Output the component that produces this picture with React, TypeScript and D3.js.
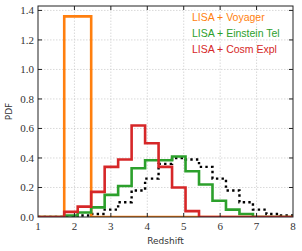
import { useEffect, useRef } from 'react'
import * as d3 from 'd3'

// bin edges shared by the three redshift histograms
const binEdges = [1.72, 2.09, 2.46, 2.83, 3.2, 3.57, 3.94, 4.31, 4.68, 5.05, 5.42, 5.79, 6.16, 6.53, 6.9, 7.27, 7.64, 8.01]
const cosmExpl = [0.035, 0.07, 0.17, 0.34, 0.39, 0.62, 0.5, 0.34, 0.2, 0.04, 0, 0, 0, 0, 0, 0, 0]
const einsteinTel = [0.01, 0.03, 0.065, 0.15, 0.21, 0.33, 0.385, 0.385, 0.41, 0.31, 0.22, 0.11, 0.05, 0.02, 0, 0, 0]
const truePdf = [0, 0.01, 0.02, 0.05, 0.1, 0.18, 0.26, 0.36, 0.4, 0.39, 0.34, 0.26, 0.18, 0.1, 0.05, 0.02, 0.01]
const voyagerEdges = [1.72, 2.46]
const voyager = [1.36]

const xTicks = [1, 2, 3, 4, 5, 6, 7, 8]
const yTicks = [0, 0.2, 0.4, 0.6, 0.8, 1.0, 1.2, 1.4]
const legendLabels = ['LISA + Voyager', 'LISA + Einstein Tel', 'LISA + Cosm Expl']
const legendColors = ['#ff7f0e', '#2ca02c', '#d62728']

const W = 302
const H = 251
const margin = { top: 6, right: 9, bottom: 34, left: 38 }

function steps(edges: number[], vals: number[]): [number, number][] {
  const pts: [number, number][] = [[1, 0], [edges[0], 0]]
  vals.forEach((v, i) => {
    pts.push([edges[i], v])
    pts.push([edges[i + 1], v])
  })
  pts.push([edges[edges.length - 1], 0])
  pts.push([8, 0])
  return pts
}

export default function App() {
  const ref = useRef<SVGSVGElement | null>(null)

  useEffect(() => {
    if (!ref.current) {return}
    const svg = d3.select(ref.current)
    svg.selectAll('*').remove()

    const x = d3.scaleLinear().domain([1, 8]).range([margin.left, W - margin.right])
    const y = d3.scaleLinear().domain([0, 1.43]).range([H - margin.bottom, margin.top])
    const [x0, x1] = x.range()
    const [y0, y1] = y.range()

    svg.append('defs').append('clipPath').attr('id', 'plot')
      .append('rect').attr('x', x0).attr('y', y1).attr('width', x1 - x0).attr('height', y0 - y1)

    // grid
    const grid = svg.append('g').attr('stroke', '#cfcfcf').attr('stroke-width', 0.8).attr('stroke-dasharray', '1.5,1.5')
    xTicks.slice(1, -1).forEach((t) => {
      grid.append('line').attr('x1', x(t)).attr('x2', x(t)).attr('y1', y0).attr('y2', y1)
    })
    yTicks.slice(1).forEach((t) => {
      grid.append('line').attr('x1', x0).attr('x2', x1).attr('y1', y(t)).attr('y2', y(t))
    })

    const line = d3.line<[number, number]>().x((d) => x(d[0])).y((d) => y(d[1]))
    const plot = svg.append('g').attr('clip-path', 'url(#plot)').attr('fill', 'none').attr('stroke-width', 2.6)

    plot.append('path').attr('d', line(steps(binEdges, truePdf))).attr('stroke', '#000')
      .attr('stroke-width', 2.4).attr('stroke-dasharray', '2.4,3.2')
    plot.append('path').attr('d', line(steps(voyagerEdges, voyager))).attr('stroke', legendColors[0])
    plot.append('path').attr('d', line(steps(binEdges, einsteinTel))).attr('stroke', legendColors[1])
    plot.append('path').attr('d', line(steps(binEdges, cosmExpl))).attr('stroke', legendColors[2])

    // frame and inward ticks
    const axes = svg.append('g').attr('stroke', '#222').attr('stroke-width', 1)
    axes.append('rect').attr('x', x0).attr('y', y1).attr('width', x1 - x0).attr('height', y0 - y1).attr('fill', 'none')
    xTicks.slice(1, -1).forEach((t) => {
      axes.append('line').attr('x1', x(t)).attr('x2', x(t)).attr('y1', y0).attr('y2', y0 - 4)
      axes.append('line').attr('x1', x(t)).attr('x2', x(t)).attr('y1', y1).attr('y2', y1 + 4)
    })
    yTicks.slice(1).forEach((t) => {
      axes.append('line').attr('x1', x0).attr('x2', x0 + 4).attr('y1', y(t)).attr('y2', y(t))
      axes.append('line').attr('x1', x1).attr('x2', x1 - 4).attr('y1', y(t)).attr('y2', y(t))
    })

    const tickFont = '"Liberation Serif", serif'
    svg.append('g').selectAll('text').data(xTicks).join('text')
      .attr('x', (d) => x(d)).attr('y', y0 + 13).attr('text-anchor', 'middle')
      .attr('font-family', tickFont).attr('font-size', 11).attr('fill', '#333')
      .text((d) => d3.format('d')(d))
    svg.append('g').selectAll('text').data(yTicks).join('text')
      .attr('x', x0 - 4).attr('y', (d) => y(d) + 4).attr('text-anchor', 'end')
      .attr('font-family', tickFont).attr('font-size', 11).attr('fill', '#333')
      .text((d) => d3.format('.1f')(d))

    svg.append('text').attr('x', (x0 + x1) / 2).attr('y', y0 + 27).attr('text-anchor', 'middle')
      .attr('font-family', '"DejaVu Sans", sans-serif').attr('font-size', 9).attr('fill', '#333').text('Redshift')
    svg.append('text').attr('transform', `translate(12,${(y0 + y1) / 2}) rotate(-90)`).attr('text-anchor', 'middle')
      .attr('font-family', '"DejaVu Sans", sans-serif').attr('font-size', 9).attr('fill', '#333').text('PDF')

    svg.append('g').selectAll('text').data(legendLabels).join('text')
      .attr('x', 192).attr('y', (_, i) => 20.5 + i * 16)
      .attr('font-family', '"Liberation Sans", sans-serif').attr('font-size', 10.5)
      .attr('fill', (_, i) => legendColors[i])
      .text((d) => d)
  }, [])

  return (
    <svg ref={ref} width={W} height={H} style={{ position: 'absolute', left: 0, top: 0, background: '#fff' }} />
  )
}
